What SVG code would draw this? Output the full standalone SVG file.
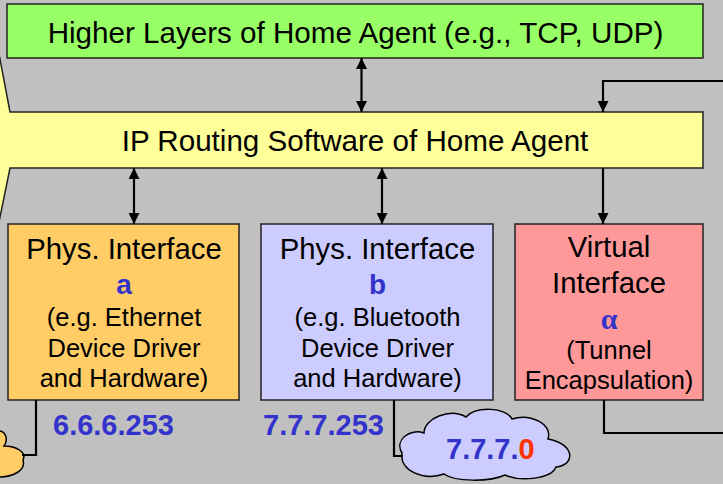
<svg xmlns="http://www.w3.org/2000/svg" width="723" height="484" viewBox="0 0 723 484">
<defs>
<marker id="ah" viewBox="0 0 10 10" refX="10" refY="5" markerWidth="11" markerHeight="11" markerUnits="userSpaceOnUse" orient="auto-start-reverse">
<path d="M0,0 L10,5 L0,10 Z" fill="#000"/>
</marker>
</defs>
<style>
.box{stroke:#222;stroke-width:1.5}
.t{font-family:"Liberation Sans",Arial,sans-serif;fill:#000;text-anchor:middle}
.h{font-size:29.6px}
.ti{font-size:29.3px}
.d{font-size:25.5px}
.ltr{font-family:"Liberation Sans",Arial,sans-serif;font-weight:bold;fill:#3333CC;font-size:28px;text-anchor:middle}
.ip{font-family:"Liberation Sans",Arial,sans-serif;font-weight:bold;fill:#3333CC;font-size:29px}
.c{fill:none;stroke:#000;stroke-width:2.2}
.cl{stroke:#000;stroke-width:1.5}
</style>
<rect width="723" height="484" fill="#C0C0C0"/>

<g id="higher-layers">
<rect class="box" x="7" y="4" width="696" height="54" fill="#99FF66"/>
<text class="t h" x="355.5" y="43">Higher Layers of Home Agent (e.g., TCP, UDP)</text>
</g>

<g id="ip-routing">
<path class="box" d="M703,112 L10,112 L-1,54 L-1,222 L10,168 L703,168 Z" fill="#FFFF99"/>
<text class="t h" x="355" y="151">IP Routing Software of Home Agent</text>
</g>

<g id="phys-a">
<rect class="box" x="8" y="224" width="231" height="176" fill="#FFCC66"/>
<text class="t ti" x="124" y="259">Phys. Interface</text>
<text class="ltr" x="124" y="294">a</text>
<text class="t d" x="124" y="326">(e.g. Ethernet</text>
<text class="t d" x="124" y="357">Device Driver</text>
<text class="t d" x="124" y="387">and Hardware)</text>
</g>

<g id="phys-b">
<rect class="box" x="261" y="224" width="232" height="176" fill="#CCCCFF"/>
<text class="t ti" x="377.5" y="259">Phys. Interface</text>
<text class="ltr" x="377.5" y="294">b</text>
<text class="t d" x="377.5" y="326">(e.g. Bluetooth</text>
<text class="t d" x="377.5" y="357">Device Driver</text>
<text class="t d" x="377.5" y="387">and Hardware)</text>
</g>

<g id="virtual-alpha">
<rect class="box" x="515" y="224" width="188" height="176" fill="#FF9999"/>
<text class="t ti" x="609" y="257">Virtual</text>
<text class="t ti" x="609" y="293">Interface</text>
<text x="609" y="329" font-family="Liberation Serif,serif" font-weight="bold" font-size="30" fill="#3333CC" text-anchor="middle">α</text>
<text class="t d" x="609" y="359">(Tunnel</text>
<text class="t d" x="609" y="389">Encapsulation)</text>
</g>

<g id="net-6">
<path class="cl" d="M-2,431 C5,430 9,439 4,446 C16,446 27,452 23,460 C26,470 14,477 -2,477 Z" fill="#FFCC66"/>
</g>

<g id="net-7">
<path class="cl" d="M402,453 C394,440 410,428 424,433 C424,418 450,408 466,417 C476,406 506,407 512,419 C530,413 553,424 548,439 C575,444 576,465 556,467 C551,479 521,482 505,475 C490,482 455,482 444,474 C424,481 399,471 402,453 Z" fill="#CCCCFF"/>
<text class="ip" x="446" y="459">7.7.7.<tspan fill="#FF3300">0</tspan></text>
</g>

<g id="labels">
<text class="ip" x="53" y="435">6.6.6.253</text>
<text class="ip" x="263" y="435">7.7.7.253</text>
</g>

<g id="connectors">
<line class="c" x1="361.5" y1="58" x2="361.5" y2="112" marker-start="url(#ah)" marker-end="url(#ah)"/>
<polyline class="c" points="723,81 603,81 603,112" marker-end="url(#ah)"/>
<line class="c" x1="134" y1="168" x2="134" y2="224" marker-start="url(#ah)" marker-end="url(#ah)"/>
<line class="c" x1="382" y1="168" x2="382" y2="224" marker-start="url(#ah)" marker-end="url(#ah)"/>
<line class="c" x1="603" y1="168" x2="603" y2="224" marker-end="url(#ah)"/>
<polyline class="c" points="36,400 36,455 22,455"/>
<polyline class="c" points="394,400 394,456 403,456"/>
<polyline class="c" points="604,400 604,433 723,433"/>
</g>
</svg>
